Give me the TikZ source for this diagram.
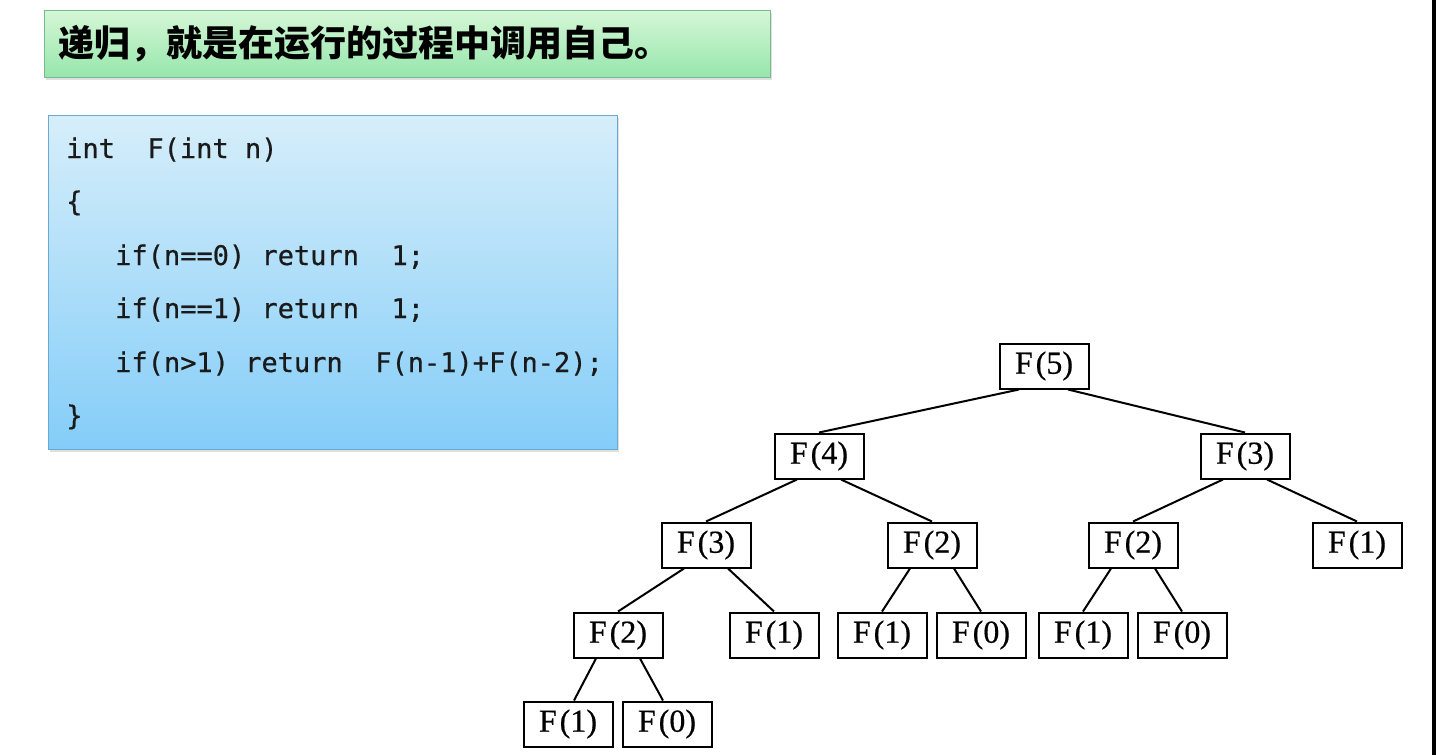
\documentclass[tikz,border=0pt]{standalone}
\usepackage{fontspec}
\setmainfont{Liberation Serif}
\newfontfamily\treefont{Liberation Serif}[FakeBold=0.5]
\newfontfamily\codefont{DejaVu Sans Mono}[FakeBold=0.6]
\newfontfamily\cjk{Noto Sans CJK SC}
\usetikzlibrary{shadows}
\definecolor{titletop}{RGB}{214,247,214}
\definecolor{titlebot}{RGB}{150,230,172}
\definecolor{titleborder}{RGB}{120,186,140}
\definecolor{codetop}{RGB}{214,238,250}
\definecolor{codebot}{RGB}{132,205,248}
\definecolor{codeborder}{RGB}{104,170,212}
\definecolor{codetext}{RGB}{26,26,26}
\newcommand{\Fn}[1]{F\kern3pt(#1)}
\tikzset{
  panel/.style={rectangle, inner sep=0pt, line width=0.8pt,
    drop shadow={opacity=0.25, shadow xshift=2pt, shadow yshift=-3pt}},
  fbox/.style={draw=black, line width=2pt, rectangle, minimum width=89pt,
    minimum height=45pt, inner sep=0pt, font=\treefont\fontsize{32}{36}\selectfont},
  codeline/.style={anchor=base west, inner sep=0pt, text=codetext,
    font=\codefont\fontsize{27}{30}\selectfont},
  edge/.style={line width=2pt, black}
}
\begin{document}
\begin{tikzpicture}[x=1pt, y=-1pt]
\useasboundingbox (0,0) rectangle (1436,755);
\fill[white] (0,0) rectangle (1436,755);
\fill[black] (1432,0) rectangle (1436,755);
% title
\node[panel, draw=titleborder, top color=titletop, bottom color=titlebot,
  minimum width=726pt, minimum height=67pt] (title) at (407,43.5) {};
\node[anchor=west, inner sep=0pt, font=\cjk\bfseries\fontsize{36}{40}\selectfont]
  (titletext) at (58,44) {递归，就是在运行的过程中调用自己。};
% code box
\node[panel, draw=codeborder, top color=codetop, bottom color=codebot,
  minimum width=569pt, minimum height=334pt] (code) at (332.5,282) {};
\node[codeline] (l1) at (66,158) {int~~F(int~n)};
\node[codeline] (l2) at (66,211) {\{};
\node[codeline] (l3) at (115,265) {if(n==0)~return~~1;};
\node[codeline] (l4) at (115,318) {if(n==1)~return~~1;};
\node[codeline] (l5) at (115,372) {if(n>1)~return~~F(n-1)+F(n-2);};
\node[codeline] (l6) at (66,425) {\}};
% tree
\node[fbox] (f5) at (1044,366) {\Fn{5}};
\node[fbox] (f4) at (819,456) {\Fn{4}};
\node[fbox] (f3r) at (1245,456) {\Fn{3}};
\node[fbox] (f3l) at (706,545) {\Fn{3}};
\node[fbox] (f2m) at (932,545) {\Fn{2}};
\node[fbox] (f2r) at (1133,545) {\Fn{2}};
\node[fbox] (f1r) at (1357,545) {\Fn{1}};
\node[fbox] (f2l) at (618,635) {\Fn{2}};
\node[fbox] (f1a) at (774,635) {\Fn{1}};
\node[fbox] (f1b) at (882,635) {\Fn{1}};
\node[fbox] (f0b) at (981,635) {\Fn{0}};
\node[fbox] (f1c) at (1083,635) {\Fn{1}};
\node[fbox] (f0c) at (1182,635) {\Fn{0}};
\node[fbox] (f1d) at (568,724) {\Fn{1}};
\node[fbox] (f0d) at (667,724) {\Fn{0}};
% edges
\draw[edge] ([xshift=-25pt]f5.south) -- (f4.north);
\draw[edge] ([xshift=24pt]f5.south) -- (f3r.north);
\draw[edge] ([xshift=-22pt]f4.south) -- (f3l.north);
\draw[edge] ([xshift=22pt]f4.south) -- (f2m.north);
\draw[edge] ([xshift=-22pt]f3r.south) -- (f2r.north);
\draw[edge] ([xshift=22pt]f3r.south) -- (f1r.north);
\draw[edge] ([xshift=-22pt]f3l.south) -- (f2l.north);
\draw[edge] ([xshift=22pt]f3l.south) -- (f1a.north);
\draw[edge] ([xshift=-22pt]f2m.south) -- (f1b.north);
\draw[edge] ([xshift=22pt]f2m.south) -- (f0b.north);
\draw[edge] ([xshift=-22pt]f2r.south) -- (f1c.north);
\draw[edge] ([xshift=22pt]f2r.south) -- (f0c.north);
\draw[edge] ([xshift=-22pt]f2l.south) -- ([xshift=6pt]f1d.north);
\draw[edge] ([xshift=22pt]f2l.south) -- ([xshift=-4pt]f0d.north);
\end{tikzpicture}
\end{document}
